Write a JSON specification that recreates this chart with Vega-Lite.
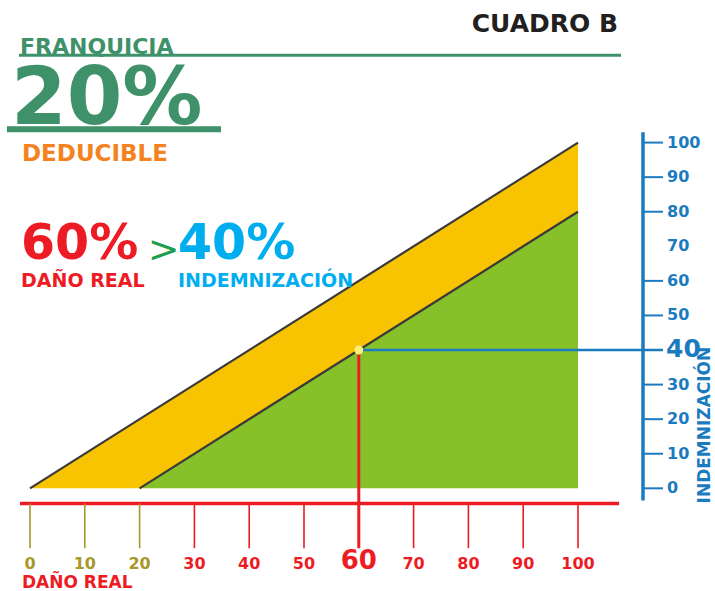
{
  "$schema": "https://vega.github.io/schema/vega-lite/v6.json",
  "width": 715,
  "height": 591,
  "autosize": {"type": "fit", "contains": "padding"},
  "padding": 0,
  "background": "white",
  "config": {
    "view": {"stroke": null},
    "text": {"font": "DejaVu Sans", "fontWeight": "bold"}
  },
  "datasets": {
    "tramos": [
      {"dano": 0, "limite": 0, "indem": 0},
      {"dano": 20, "limite": 20, "indem": 0},
      {"dano": 100, "limite": 100, "indem": 80}
    ],
    "ejeX": [{"v": 0}, {"v": 10}, {"v": 20}, {"v": 30}, {"v": 40}, {"v": 50}, {"v": 60}, {"v": 70}, {"v": 80}, {"v": 90}, {"v": 100}],
    "ejeY": [{"v": 0}, {"v": 10}, {"v": 20}, {"v": 30}, {"v": 40}, {"v": 50}, {"v": 60}, {"v": 70}, {"v": 80}, {"v": 90}, {"v": 100}]
  },
  "data": {"values": [{}]},
  "layer": [
    {
      "data": {"name": "tramos"},
      "mark": {"type": "area", "color": "#f8c301", "opacity": 1},
      "encoding": {
        "x": {"field": "dano", "type": "quantitative", "axis": null, "scale": {"domain": [-5.474, 125.0], "nice": false, "zero": false}},
        "y": {"field": "limite", "type": "quantitative", "axis": null, "scale": {"domain": [-28.83, 141.24], "nice": false, "zero": false}},
        "y2": {"field": "indem"}
      }
    },
    {
      "data": {"name": "tramos"},
      "mark": {"type": "area", "color": "#86c12a", "opacity": 1},
      "encoding": {
        "x": {"field": "dano", "type": "quantitative"},
        "y": {"field": "indem", "type": "quantitative"},
        "y2": {"datum": 0}
      }
    },
    {
      "data": {"name": "tramos"},
      "mark": {"type": "line", "color": "#3a3a3a", "strokeWidth": 2.2},
      "encoding": {
        "x": {"field": "dano", "type": "quantitative"},
        "y": {"field": "limite", "type": "quantitative"}
      }
    },
    {
      "data": {"name": "tramos"},
      "transform": [{"filter": "datum.dano >= 20"}],
      "mark": {"type": "line", "color": "#3a3a3a", "strokeWidth": 2.2},
      "encoding": {
        "x": {"field": "dano", "type": "quantitative"},
        "y": {"field": "indem", "type": "quantitative"}
      }
    },
    {
      "mark": {"type": "rule", "color": "#3f9169", "strokeWidth": 3},
      "encoding": {
        "x": {"datum": -2.01, "type": "quantitative"},
        "x2": {"datum": 107.85},
        "y": {"datum": 125.27, "type": "quantitative"}
      }
    },
    {
      "mark": {"type": "rule", "color": "#3f9169", "strokeWidth": 6},
      "encoding": {
        "x": {"datum": -4.2, "type": "quantitative"},
        "x2": {"datum": 34.85},
        "y": {"datum": 103.83, "type": "quantitative"}
      }
    },
    {
      "mark": {"type": "rule", "color": "#ed1c24", "strokeWidth": 3.5},
      "encoding": {
        "x": {"datum": -1.82, "type": "quantitative"},
        "x2": {"datum": 107.5},
        "y": {"datum": -4.375, "type": "quantitative"}
      }
    },
    {
      "data": {"name": "ejeX"},
      "transform": [{"filter": "datum.v != 60"}],
      "mark": {"type": "rule", "strokeWidth": 1.6},
      "encoding": {
        "x": {"field": "v", "type": "quantitative"},
        "y": {"datum": -4.375, "type": "quantitative"},
        "y2": {"datum": -17.32},
        "color": {"condition": {"test": "datum.v <= 20", "value": "#a8972b"}, "value": "#ed1c24"}
      }
    },
    {
      "data": {"name": "ejeX"},
      "transform": [{"filter": "datum.v != 60"}],
      "mark": {"type": "text", "fontSize": 16, "align": "center", "baseline": "alphabetic"},
      "encoding": {
        "x": {"field": "v", "type": "quantitative"},
        "y": {"datum": -23.22, "type": "quantitative"},
        "text": {"field": "v", "type": "quantitative"},
        "color": {"condition": {"test": "datum.v <= 20", "value": "#a8972b"}, "value": "#ed1c24"}
      }
    },
    {
      "mark": {"type": "rule", "color": "#ed1c24", "strokeWidth": 3},
      "encoding": {
        "x": {"datum": 60, "type": "quantitative"},
        "y": {"datum": 40, "type": "quantitative"},
        "y2": {"datum": -17.32}
      }
    },
    {
      "mark": {"type": "text", "text": "60", "fontSize": 26, "align": "center", "baseline": "alphabetic", "color": "#ed1c24"},
      "encoding": {
        "x": {"datum": 60, "type": "quantitative"},
        "y": {"datum": -23.3, "type": "quantitative"}
      }
    },
    {
      "mark": {"type": "text", "text": "DAÑO REAL", "fontSize": 17, "align": "left", "baseline": "alphabetic", "color": "#ed1c24"},
      "encoding": {
        "x": {"datum": -1.46, "type": "quantitative"},
        "y": {"datum": -28.8, "type": "quantitative"}
      }
    },
    {
      "mark": {"type": "rule", "color": "#1b7bbf", "strokeWidth": 3.5},
      "encoding": {
        "x": {"datum": 111.86, "type": "quantitative"},
        "y": {"datum": 102.96, "type": "quantitative"},
        "y2": {"datum": -3.51}
      }
    },
    {
      "data": {"name": "ejeY"},
      "transform": [{"filter": "datum.v != 70 && datum.v != 40"}],
      "mark": {"type": "rule", "color": "#1b7bbf", "strokeWidth": 2},
      "encoding": {
        "x": {"datum": 111.86, "type": "quantitative"},
        "x2": {"datum": 115.51},
        "y": {"field": "v", "type": "quantitative"}
      }
    },
    {
      "data": {"name": "ejeY"},
      "transform": [{"filter": "datum.v != 40"}],
      "mark": {"type": "text", "fontSize": 16, "align": "left", "baseline": "middle", "color": "#1b7bbf"},
      "encoding": {
        "x": {"datum": 116.24, "type": "quantitative"},
        "y": {"field": "v", "type": "quantitative"},
        "text": {"field": "v", "type": "quantitative"}
      }
    },
    {
      "mark": {"type": "rule", "color": "#1b7bbf", "strokeWidth": 2.5},
      "encoding": {
        "x": {"datum": 60, "type": "quantitative"},
        "x2": {"datum": 115.51},
        "y": {"datum": 40, "type": "quantitative"}
      }
    },
    {
      "mark": {"type": "text", "text": "40", "fontSize": 25, "align": "left", "baseline": "middle", "color": "#1b7bbf"},
      "encoding": {
        "x": {"datum": 116.06, "type": "quantitative"},
        "y": {"datum": 40.3, "type": "quantitative"}
      }
    },
    {
      "mark": {"type": "text", "text": "INDEMNIZACIÓN", "fontSize": 17, "angle": 270, "align": "center", "baseline": "middle", "color": "#1b7bbf"},
      "encoding": {
        "x": {"datum": 123.2, "type": "quantitative"},
        "y": {"datum": 18.3, "type": "quantitative"}
      }
    },
    {
      "mark": {"type": "point", "filled": true, "color": "#fbef78", "size": 80, "opacity": 1},
      "encoding": {
        "x": {"datum": 60, "type": "quantitative"},
        "y": {"datum": 40, "type": "quantitative"}
      }
    },
    {
      "mark": {"type": "text", "text": "CUADRO B", "fontSize": 25, "align": "right", "baseline": "alphabetic", "color": "#231f20"},
      "encoding": {
        "x": {"datum": 107.3, "type": "quantitative"},
        "y": {"datum": 132.03, "type": "quantitative"}
      }
    },
    {
      "mark": {"type": "text", "text": "FRANQUICIA", "fontSize": 22, "align": "left", "baseline": "alphabetic", "color": "#3f9169"},
      "encoding": {
        "x": {"datum": -1.82, "type": "quantitative"},
        "y": {"datum": 125.7, "type": "quantitative"}
      }
    },
    {
      "mark": {"type": "text", "text": "20%", "fontSize": 80, "align": "left", "baseline": "alphabetic", "color": "#3f9169"},
      "encoding": {
        "x": {"datum": -3.47, "type": "quantitative"},
        "y": {"datum": 105.27, "type": "quantitative"}
      }
    },
    {
      "mark": {"type": "text", "text": "DEDUCIBLE", "fontSize": 23, "align": "left", "baseline": "alphabetic", "color": "#f58220"},
      "encoding": {
        "x": {"datum": -1.46, "type": "quantitative"},
        "y": {"datum": 94.62, "type": "quantitative"}
      }
    },
    {
      "mark": {"type": "text", "text": "60%", "fontSize": 49, "align": "left", "baseline": "alphabetic", "color": "#ed1c24"},
      "encoding": {
        "x": {"datum": -1.64, "type": "quantitative"},
        "y": {"datum": 66.42, "type": "quantitative"}
      }
    },
    {
      "mark": {"type": "text", "text": ">", "fontSize": 38, "fontWeight": "normal", "align": "center", "baseline": "alphabetic", "color": "#1aa04a"},
      "encoding": {
        "x": {"datum": 24.4, "type": "quantitative"},
        "y": {"datum": 65.5, "type": "quantitative"}
      }
    },
    {
      "mark": {"type": "text", "text": "40%", "fontSize": 49, "align": "left", "baseline": "alphabetic", "color": "#00aeef"},
      "encoding": {
        "x": {"datum": 27.0, "type": "quantitative"},
        "y": {"datum": 66.42, "type": "quantitative"}
      }
    },
    {
      "mark": {"type": "text", "text": "DAÑO REAL", "fontSize": 19, "align": "left", "baseline": "alphabetic", "color": "#ed1c24"},
      "encoding": {
        "x": {"datum": -1.64, "type": "quantitative"},
        "y": {"datum": 58.27, "type": "quantitative"}
      }
    },
    {
      "mark": {"type": "text", "text": "INDEMNIZACIÓN", "fontSize": 19, "align": "left", "baseline": "alphabetic", "color": "#00aeef"},
      "encoding": {
        "x": {"datum": 27.0, "type": "quantitative"},
        "y": {"datum": 58.27, "type": "quantitative"}
      }
    }
  ]
}
